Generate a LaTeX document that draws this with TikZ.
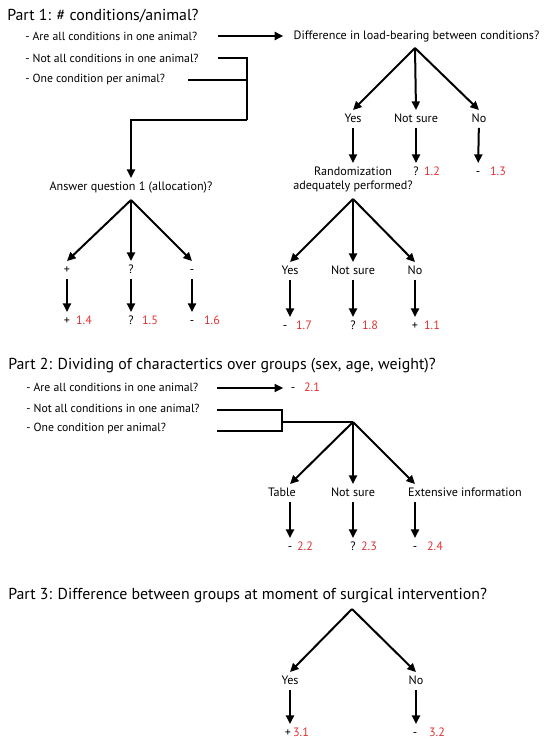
\documentclass[tikz,border=0pt]{standalone}
\usepackage{fontspec}
\setmainfont{PT Sans}
\usetikzlibrary{calc}
\usetikzlibrary{arrows.meta}
\definecolor{numred}{RGB}{228,50,50}
\begin{document}
\begin{tikzpicture}[x=0.75pt,y=-0.75pt,
    part/.style={anchor=west,inner sep=0pt,font=\fontsize{11.9}{13}\selectfont},
    item/.style={anchor=west,inner sep=0pt,font=\fontsize{8.8}{10}\selectfont},
    lbl/.style={inner sep=2.5pt,text height=6.3pt,text depth=1.7pt,font=\fontsize{9.1}{10}\selectfont},
    num/.style={lbl,inner sep=0pt,text=numred},
    wire/.style={line width=1.5pt},
    arr/.style={wire,-{Triangle[length=6.5pt,width=6pt]}}]
    \useasboundingbox (0,0) rectangle (543,741);

    \node[part] (p1) at (7,16) {Part 1: \# conditions/animal?};
    \node[item] (q1a) at (25,36) {- Are all conditions in one animal?};
    \node[item] (q1b) at (25,58) {- Not all conditions in one animal?};
    \node[item] (q1c) at (25,80) {- One condition per animal?};
    \coordinate (s1a) at (218,36);
    \coordinate (s1b) at (218,58);
    \coordinate (s1c) at (188,80);
    \coordinate (k1) at (247,120);
    \node[lbl,anchor=west] (diff) at (290,36) {Difference in load-bearing between conditions?};
    \draw[arr,shorten >=5pt] (s1a) -- (diff);
    \draw[wire] (s1b) -| (k1);
    \draw[wire] (s1c) -- (s1c -| k1);

    \node[lbl] (ans) at (131,187) {Answer question 1 (allocation)?};
    \draw[arr] (k1) -| (ans);
    \coordinate (a0) at (131,200);
    \node[lbl] (ap) at (67,270) {+};
    \node[lbl] (aq) at (131,270) {?};
    \node[lbl] (am) at (192,270) {-};
    \draw[arr] (a0) -- (ap.north);
    \draw[arr] (a0) -- (aq.north);
    \draw[arr] (a0) -- (am.north);
    \node[lbl] (r14) at (67,321) {+};
    \node[num] (n14) at (84,321) {1.4};
    \node[lbl] (r15) at (131,321) {?};
    \node[num] (n15) at (150,321) {1.5};
    \node[lbl] (r16) at (192,321) {-};
    \node[num] (n16) at (212,321) {1.6};
    \draw[arr] (ap) -- (r14);
    \draw[arr] (aq) -- (r15);
    \draw[arr] (am) -- (r16);

    \coordinate (d0) at (415,48);
    \node[lbl] (dy) at (353,119) {Yes};
    \node[lbl] (dn) at (416,119) {Not sure};
    \node[lbl] (dx) at (479,119) {No};
    \draw[arr] (d0) -- (dy.north);
    \draw[arr] (d0) -- (dn.north);
    \draw[arr] (d0) -- (dx.north);
    \node[font=\fontsize{9.1}{10.5}\selectfont,align=center,inner sep=2.5pt,anchor=north] (rand) at (353,163) {Randomization\\adequately performed?};
    \node[lbl] (r12) at (416,172) {?};
    \node[num] (n12) at (432,172) {1.2};
    \node[lbl] (r13) at (478,172) {-};
    \node[num] (n13) at (498,172) {1.3};
    \draw[arr] (dy) -- (rand);
    \draw[arr] (dn) -- (r12);
    \draw[arr] (dx) -- (r13);

    \coordinate (e0) at (353,199);
    \node[lbl] (ey) at (290,271) {Yes};
    \node[lbl] (en) at (353,271) {Not sure};
    \node[lbl] (ex) at (415,271) {No};
    \draw[arr] (e0) -- (ey.north);
    \draw[arr] (e0) -- (en.north);
    \draw[arr] (e0) -- (ex.north);
    \node[lbl] (r17) at (285,326) {-};
    \node[num] (n17) at (304,326) {1.7};
    \node[lbl] (r18) at (353,326) {?};
    \node[num] (n18) at (370,326) {1.8};
    \node[lbl] (r11) at (415,326) {+};
    \node[num] (n11) at (432,326) {1.1};
    \draw[arr] (ey) -- (ey.south |- r17.north);
    \draw[arr] (en) -- (r18);
    \draw[arr] (ex) -- (r11);

    \node[part] (p2) at (8,366) {Part 2: Dividing of charactertics over groups (sex, age, weight)?};
    \node[item] (q2a) at (26,387) {- Are all conditions in one animal?};
    \node[item] (q2b) at (26,408) {- Not all conditions in one animal?};
    \node[item] (q2c) at (26,428) {- One condition per animal?};
    \coordinate (s2a) at (217,388);
    \coordinate (s2b) at (217,410);
    \coordinate (s2c) at (217,431);
    \coordinate (k2) at (282,422);
    \coordinate (f0) at (353,422);
    \node[lbl] (r21) at (293,388) {-};
    \node[num] (n21) at (312,388) {2.1};
    \draw[arr,shorten >=3pt] (s2a) -- (r21);
    \draw[wire] (s2b) -| (s2c -| k2) -- (s2c);
    \draw[wire] (k2) -- (f0);

    \node[lbl] (ft) at (282,493) {Table};
    \node[lbl] (fn) at (353,493) {Not sure};
    \node[lbl] (fx) at (465,493) {Extensive information};
    \node[lbl] (r22) at (290,547) {-};
    \node[num] (n22) at (305,547) {2.2};
    \node[lbl] (r23) at (353,547) {?};
    \node[num] (n23) at (369,547) {2.3};
    \node[lbl] (r24) at (415,547) {-};
    \node[num] (n24) at (435,547) {2.4};
    \draw[arr] (f0) -- (r22 |- ft.north);
    \draw[arr] (f0) -- (fn.north);
    \draw[arr] (f0) -- (r24 |- fx.north);
    \draw[arr] (r22 |- ft.south) -- (r22);
    \draw[arr] (fn) -- (r23);
    \draw[arr] (r24 |- fx.south) -- (r24);

    \node[part] (p3) at (8,596) {Part 3: Difference between groups at moment of surgical intervention?};
    \coordinate (g0) at (352,609);
    \node[lbl] (gy) at (290,681) {Yes};
    \node[lbl] (gx) at (416,681) {No};
    \node[lbl] (r31) at (288,733) {+};
    \node[num] (n31) at (301,733) {3.1};
    \node[lbl] (r32) at (415,733) {-};
    \node[num] (n32) at (437,733) {3.2};
    \draw[arr] (g0) -- (gy.north);
    \draw[arr] (g0) -- (gx.north);
    \draw[arr] (gy) -- (gy.south |- r31.north);
    \draw[arr] (gx) -- (gx.south |- r32.north);
\end{tikzpicture}
\end{document}
